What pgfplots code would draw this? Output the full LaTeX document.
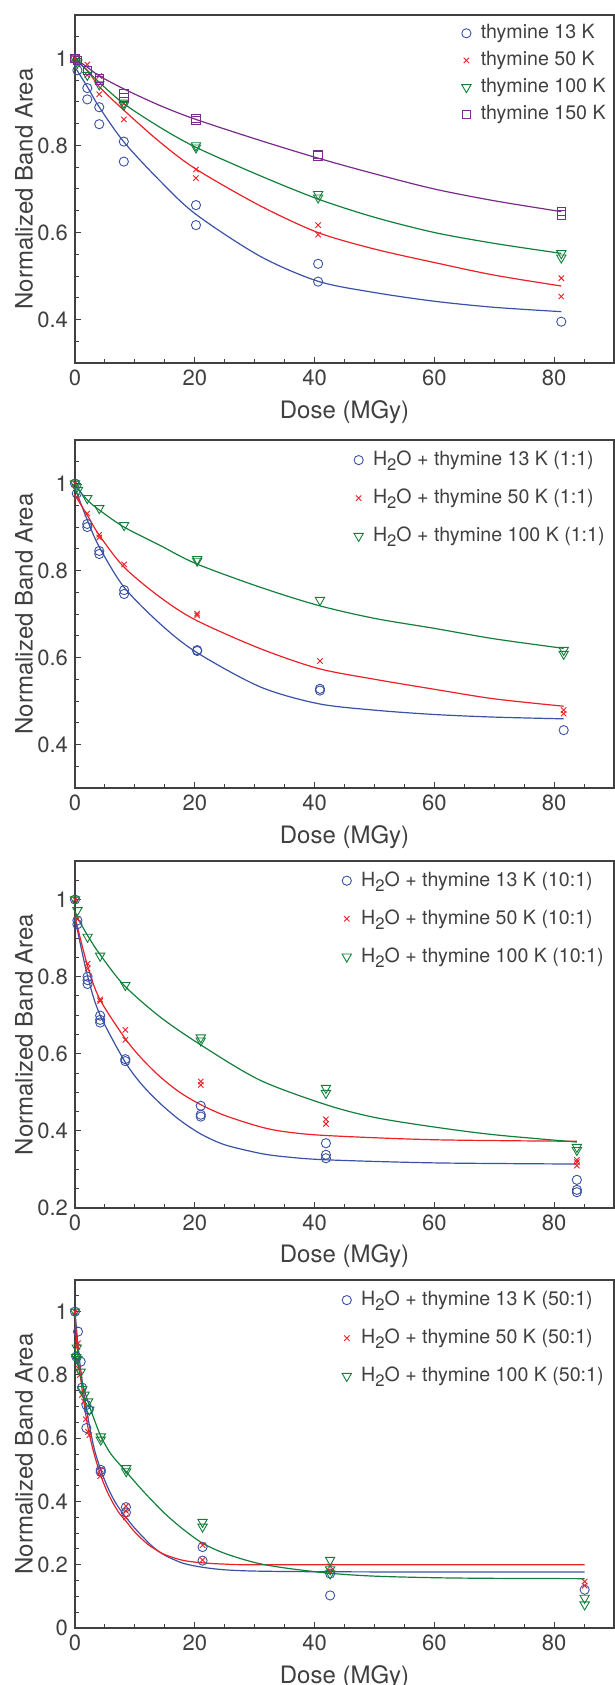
\documentclass[border=0pt]{standalone}
\usepackage{fontspec}
\setmainfont{TeX Gyre Heros}
\usepackage{pgfplots}
\pgfplotsset{compat=1.18}
\definecolor{cb}{RGB}{58,82,165}
\definecolor{cr}{RGB}{236,32,39}
\definecolor{cg}{RGB}{18,128,58}
\definecolor{cp}{RGB}{122,42,138}
\definecolor{tg}{RGB}{64,64,64}
\newcommand{\HtwoO}{H\raisebox{-0.5ex}{\fontsize{8.3}{9}\selectfont 2}O}
\pgfplotsset{
 panel/.style={
  width=269.5pt, height=174pt, scale only axis, clip=false,
  xmin=0, xmax=90, xtick={0,20,40,60,80},
  minor xtick={5,10,15,25,30,35,45,50,55,65,70,75,85},
  tick align=inside, xtick pos=bottom, ytick pos=left,
  major tick length=3.2pt, minor tick length=2.1pt,
  axis line style={tg, line width=0.6pt},
  tick style={tg, line width=0.5pt},
  ticklabel style={font=\fontsize{11}{13}\selectfont, text=tg},
  /pgf/number format/assume math mode=true,
  xlabel={Dose (MGy)}, ylabel={Normalized Band Area},
  xlabel style={font=\fontsize{12}{14}\selectfont, text=tg, at={(axis description cs:0.5,0)}, anchor=base, yshift=-27.5pt},
  ylabel style={font=\fontsize{12}{14}\selectfont, text=tg, at={(axis description cs:-0.0943,0.5)}, anchor=center},
  legend cell align=left,
  legend style={draw=none, fill=none, at={(axis description cs:1,1)}, anchor=north east,
    font=\fontsize{9.8}{12}\selectfont, text=tg, inner sep=0pt,
    nodes={inner sep=0.5pt, text height=7.5pt, text depth=2.2pt}},
  legend image code/.code={\path[draw=none,fill=none] (0pt,0pt) -- (9.5pt,0pt); \draw[##1] plot coordinates {(2.8pt,0pt)};},
 },
 fitb/.style={cb, line width=0.6pt, smooth, forget plot, no marks},
 fitr/.style={cr, line width=0.6pt, smooth, forget plot, no marks},
 fitg/.style={cg, line width=0.6pt, smooth, forget plot, no marks},
 fitp/.style={cp, line width=0.6pt, smooth, forget plot, no marks},
 mb/.style={cb, only marks, mark=o, mark size=2.3pt, mark options={line width=0.45pt}},
 mr/.style={cr, only marks, mark=x, mark size=1.9pt, mark options={line width=0.45pt}},
 mg/.style={cg, only marks, mark=triangle, mark size=2.7pt, mark options={rotate=180, line width=0.45pt}},
 mp/.style={cp, only marks, mark=square, mark size=2.1pt, mark options={line width=0.45pt}},
}
\begin{document}
\begin{tikzpicture}
\path[use as bounding box] (0,0) rectangle (307.5pt,-842.5pt);
% ---------------- Panel 1 ----------------
\begin{axis}[panel, at={(37.5pt,-7.5pt)}, anchor=north west,
  ymin=0.3, ymax=1.1, ytick={0.4,0.6,0.8,1},
  minor ytick={0.35,0.45,0.5,0.55,0.65,0.7,0.75,0.85,0.9,0.95,1.05},
  legend style={xshift=-3.5pt, yshift=-3.6pt, row sep=2.8pt}]
\addplot[fitb] coordinates {(0,0.98) (2.06,0.935) (4.06,0.888) (8.17,0.808) (14.17,0.719) (20.17,0.642) (30.83,0.546) (40.56,0.488) (50,0.462) (60,0.442) (70,0.428) (81.2,0.418)};
\addplot[fitr] coordinates {(0,0.996) (2.06,0.973) (4.06,0.935) (8.17,0.881) (14.17,0.808) (20.17,0.746) (30.83,0.662) (40.56,0.60) (50,0.562) (60,0.531) (70,0.502) (81.2,0.477)};
\addplot[fitg] coordinates {(0,1.0) (2.06,0.972) (4.06,0.945) (8.17,0.896) (14.17,0.842) (20.17,0.796) (30.83,0.731) (40.56,0.677) (50,0.635) (60,0.60) (70,0.575) (81.2,0.552)};
\addplot[fitp] coordinates {(0,1.0) (2.06,0.98) (4.06,0.96) (8.17,0.93) (14.17,0.892) (20.17,0.86) (30.83,0.812) (40.56,0.771) (50,0.735) (60,0.70) (70,0.673) (81.2,0.648)};
\addplot[mb] coordinates {(0,1.0) (0.4,0.973) (2.05,0.932) (2.05,0.906) (4.05,0.888) (4.05,0.849) (8.15,0.809) (8.15,0.763) (20.2,0.663) (20.2,0.617) (40.6,0.528) (40.6,0.487) (81.2,0.395)};
\addlegendentry{thymine 13 K}
\addplot[mr] coordinates {(0,1.0) (0.4,0.99) (2.05,0.986) (2.05,0.962) (4.05,0.96) (4.05,0.918) (8.15,0.896) (8.15,0.86) (20.2,0.745) (20.2,0.725) (40.6,0.617) (40.6,0.595) (81.2,0.495) (81.2,0.453)};
\addlegendentry{thymine 50 K}
\addplot[mg] coordinates {(0,1.0) (0.4,0.99) (2.05,0.962) (4.05,0.94) (8.15,0.898) (8.15,0.893) (20.2,0.80) (20.2,0.795) (40.6,0.688) (40.6,0.68) (81.2,0.552) (81.2,0.542)};
\addlegendentry{thymine 100 K}
\addplot[mp] coordinates {(0,1.0) (0.4,0.995) (2.05,0.973) (4.05,0.954) (4.05,0.95) (8.15,0.92) (8.15,0.91) (20.2,0.862) (20.2,0.858) (40.6,0.78) (40.6,0.776) (81.2,0.648) (81.2,0.64)};
\addlegendentry{thymine 150 K}
\end{axis}
% ---------------- Panel 2 ----------------
\begin{axis}[panel, at={(37.5pt,-220pt)}, anchor=north west,
  ymin=0.3, ymax=1.1, ytick={0.4,0.6,0.8,1},
  minor ytick={0.35,0.45,0.5,0.55,0.65,0.7,0.75,0.85,0.9,0.95,1.05},
  legend style={xshift=-4pt, yshift=-4.5pt, row sep=8.3pt}]
\addplot[fitb] coordinates {(0,0.989) (2.06,0.916) (4.06,0.854) (8.17,0.762) (14.17,0.678) (20.17,0.613) (30.83,0.533) (40.56,0.494) (50,0.479) (60,0.469) (70,0.463) (81.6,0.459)};
\addplot[fitr] coordinates {(0,0.973) (2.06,0.927) (4.06,0.881) (8.17,0.808) (14.17,0.739) (20.17,0.686) (30.83,0.621) (40.56,0.575) (50,0.55) (60,0.527) (70,0.505) (81.6,0.488)};
\addplot[fitg] coordinates {(0,0.996) (2.06,0.962) (4.06,0.939) (8.17,0.90) (14.17,0.858) (20.17,0.816) (30.83,0.762) (40.56,0.72) (50,0.69) (60,0.667) (70,0.643) (81.6,0.621)};
\addplot[mb] coordinates {(0,1.0) (0.3,0.977) (2.05,0.907) (2.05,0.90) (4.05,0.845) (4.05,0.838) (8.2,0.755) (8.2,0.746) (20.4,0.617) (20.4,0.615) (40.9,0.528) (40.9,0.524) (81.6,0.433)};
\addlegendentry{\HtwoO{} + thymine 13 K (1:1)}
\addplot[mr] coordinates {(0,1.0) (0.3,0.969) (2.05,0.931) (4.05,0.882) (4.05,0.876) (8.2,0.814) (20.4,0.701) (20.4,0.697) (40.9,0.592) (81.6,0.479) (81.6,0.471)};
\addlegendentry{\HtwoO{} + thymine 50 K (1:1)}
\addplot[mg] coordinates {(0,1.0) (0.3,0.992) (0.5,0.985) (2.05,0.966) (4.05,0.943) (8.2,0.904) (20.4,0.826) (20.4,0.822) (40.9,0.732) (81.6,0.617) (81.6,0.608)};
\addlegendentry{\HtwoO{} + thymine 100 K (1:1)}
\end{axis}
% ---------------- Panel 3 ----------------
\begin{axis}[panel, at={(37.5pt,-430.5pt)}, anchor=north west, height=173.5pt,
  ymin=0.2, ymax=1.1, ytick={0.2,0.4,0.6,0.8,1},
  minor ytick={0.25,0.3,0.35,0.45,0.5,0.55,0.65,0.7,0.75,0.85,0.9,0.95,1.05},
  legend style={xshift=-4.5pt, yshift=-4.3pt, row sep=8.3pt}]
\addplot[fitb] coordinates {(0,0.951) (2.06,0.804) (4.06,0.705) (8.17,0.584) (11,0.523) (14.17,0.472) (17.5,0.428) (21,0.392) (25,0.364) (30.83,0.342) (35,0.333) (41.9,0.325) (60,0.317) (83.8,0.314)};
\addplot[fitr] coordinates {(0,0.955) (2.06,0.83) (4.06,0.744) (8.17,0.644) (11,0.59) (14.17,0.541) (17.5,0.50) (21,0.468) (25,0.44) (30.83,0.411) (35,0.398) (41.9,0.388) (60,0.377) (83.8,0.373)};
\addplot[fitg] coordinates {(0,0.964) (2.06,0.908) (4.06,0.86) (8.17,0.778) (14.17,0.696) (21,0.623) (30.83,0.532) (41.9,0.468) (50,0.435) (60,0.41) (70,0.39) (83.8,0.371)};
\addplot[mb] coordinates {(0,1.0) (0.4,0.946) (0.4,0.936) (2.1,0.80) (2.1,0.791) (2.1,0.781) (4.2,0.699) (4.2,0.688) (4.2,0.681) (8.4,0.586) (8.4,0.581) (21,0.465) (21,0.442) (21,0.437) (41.9,0.368) (41.9,0.338) (41.9,0.329) (83.8,0.273) (83.8,0.247) (83.8,0.241)};
\addlegendentry{\HtwoO{} + thymine 13 K (10:1)}
\addplot[mr] coordinates {(0,1.0) (0.4,0.95) (2.1,0.834) (2.1,0.821) (4.2,0.741) (4.2,0.737) (8.4,0.662) (8.4,0.636) (21,0.528) (21,0.519) (41.9,0.43) (41.9,0.418) (83.8,0.325) (83.8,0.319) (83.8,0.31)};
\addlegendentry{\HtwoO{} + thymine 50 K (10:1)}
\addplot[mg] coordinates {(0,1.0) (0.4,0.972) (2.1,0.903) (4.2,0.854) (8.4,0.778) (21,0.642) (21,0.634) (41.9,0.511) (41.9,0.498) (83.8,0.358) (83.8,0.35)};
\addlegendentry{\HtwoO{} + thymine 100 K (10:1)}
\end{axis}
% ---------------- Panel 4 ----------------
\begin{axis}[panel, at={(37.5pt,-640pt)}, anchor=north west,
  ymin=0, ymax=1.1, ytick={0,0.2,0.4,0.6,0.8,1},
  minor ytick={0.05,0.1,0.15,0.25,0.3,0.35,0.45,0.5,0.55,0.65,0.7,0.75,0.85,0.9,0.95,1.05},
  legend style={xshift=-4.5pt, yshift=-4.5pt, row sep=8.3pt}]
\addplot[fitb] coordinates {(0,1.0) (0.4,0.915) (0.83,0.835) (1.2,0.78) (1.67,0.72) (2.5,0.63) (3.3,0.56) (4.3,0.50) (5.4,0.447) (6.5,0.405) (7.5,0.375) (8.5,0.35) (10,0.315) (12,0.275) (13.3,0.252) (15,0.23) (18,0.205) (21.3,0.192) (25,0.184) (30,0.18) (40,0.178) (60,0.177) (85.1,0.177)};
\addplot[fitr] coordinates {(0,1.0) (0.2,0.93) (0.5,0.86) (0.8,0.81) (1.4,0.725) (2.2,0.63) (3.2,0.55) (4.3,0.482) (5.4,0.43) (6.5,0.39) (7.5,0.36) (8.5,0.338) (10,0.303) (12,0.267) (13.3,0.25) (15,0.232) (18,0.214) (21.3,0.206) (25,0.202) (30,0.2) (60,0.2) (85.1,0.2)};
\addplot[fitg] coordinates {(0,0.87) (0.5,0.83) (1,0.79) (2,0.725) (3,0.67) (4.3,0.607) (6,0.55) (8.5,0.495) (10,0.462) (12,0.42) (15,0.362) (18,0.313) (21.3,0.268) (25,0.236) (30,0.207) (35,0.19) (42.6,0.173) (50,0.164) (60,0.159) (70,0.157) (85.1,0.156)};
\addplot[mb] coordinates {(0,1.0) (0.5,0.937) (0.2,0.858) (0.95,0.842) (1.17,0.76) (1.9,0.705) (2.3,0.69) (1.9,0.632) (4.3,0.50) (4.3,0.493) (8.5,0.382) (8.5,0.365) (21.3,0.256) (21.3,0.213) (42.6,0.172) (42.6,0.103) (85.1,0.121)};
\addlegendentry{\HtwoO{} + thymine 13 K (50:1)}
\addplot[mr] coordinates {(0,1.0) (0.4,0.889) (0.5,0.90) (0.8,0.80) (0.6,0.82) (1.17,0.737) (1.5,0.716) (1.8,0.66) (2.2,0.62) (2.4,0.61) (4.2,0.48) (4.3,0.50) (8.5,0.385) (8.5,0.37) (8.5,0.35) (21.3,0.262) (21.3,0.215) (42.6,0.195) (42.6,0.178) (85.1,0.147) (85.1,0.134)};
\addlegendentry{\HtwoO{} + thymine 50 K (50:1)}
\addplot[mg] coordinates {(0,1.0) (0.3,0.886) (0.2,0.856) (0.4,0.85) (0.95,0.81) (1.2,0.755) (1.6,0.737) (2.2,0.716) (2.4,0.69) (4.3,0.605) (4.3,0.595) (8.55,0.505) (8.55,0.495) (21.3,0.335) (21.3,0.32) (42.6,0.215) (42.6,0.185) (42.6,0.172) (85.1,0.095) (85.1,0.074)};
\addlegendentry{\HtwoO{} + thymine 100 K (50:1)}
\end{axis}
\end{tikzpicture}
\end{document}
